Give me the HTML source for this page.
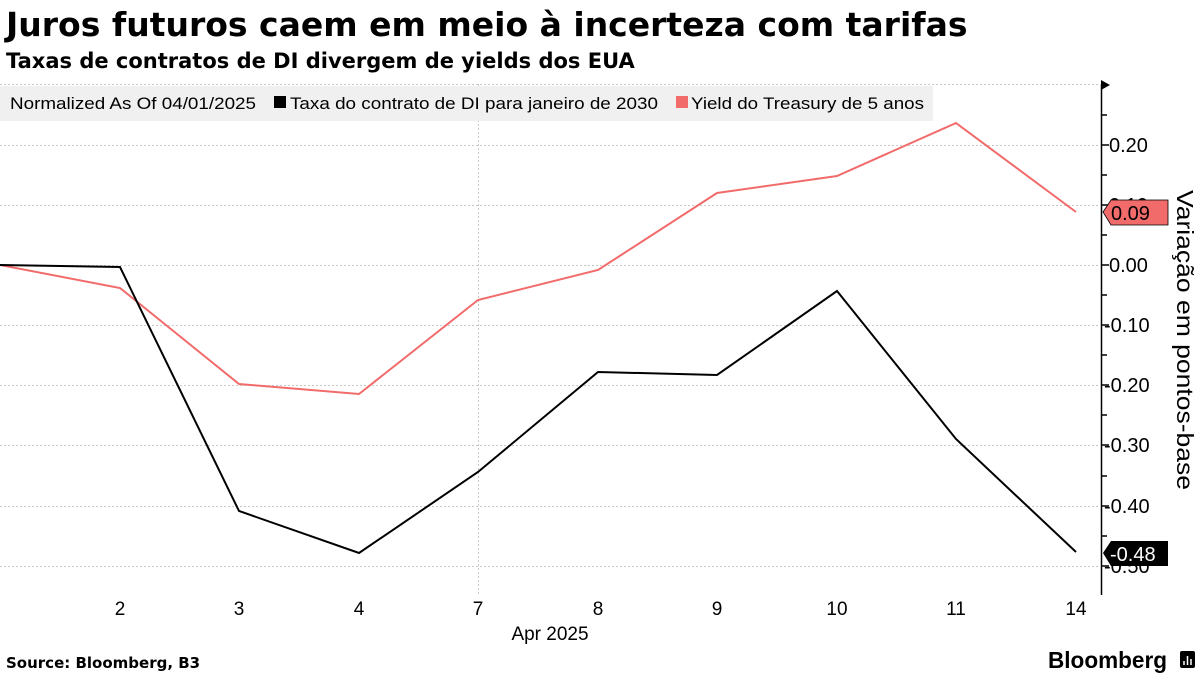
<!DOCTYPE html>
<html><head><meta charset="utf-8"><style>
body{margin:0;background:#fff;width:1200px;height:675px;overflow:hidden;font-family:"Liberation Sans",sans-serif}
</style></head><body>
<svg width="1200" height="675" xmlns="http://www.w3.org/2000/svg" font-family="Liberation Sans, sans-serif">
<text x="6" y="36" font-family="DejaVu Sans, sans-serif" font-weight="bold" font-size="33" fill="#000">Juros futuros caem em meio à incerteza com tarifas</text>
<text x="6" y="68" font-family="DejaVu Sans, sans-serif" font-weight="bold" font-size="21" fill="#000">Taxas de contratos de DI divergem de yields dos EUA</text>
<g stroke="#c8c8c8" stroke-dasharray="2,2" stroke-width="1">
<line x1="0" y1="84.5" x2="1100" y2="84.5"/>
<line x1="0" y1="145.5" x2="1100" y2="145.5"/>
<line x1="0" y1="205.5" x2="1100" y2="205.5"/>
<line x1="0" y1="265.5" x2="1100" y2="265.5"/>
<line x1="0" y1="325.5" x2="1100" y2="325.5"/>
<line x1="0" y1="385.5" x2="1100" y2="385.5"/>
<line x1="0" y1="445.5" x2="1100" y2="445.5"/>
<line x1="0" y1="506.5" x2="1100" y2="506.5"/>
<line x1="0" y1="566.5" x2="1100" y2="566.5"/>
<line x1="478.5" y1="84" x2="478.5" y2="595"/>
</g>
<rect x="0" y="86" width="933" height="35" fill="#f0f0f0"/>
<text x="10" y="109" font-size="17" fill="#000" textLength="246" lengthAdjust="spacingAndGlyphs">Normalized As Of 04/01/2025</text>
<rect x="274" y="96" width="12" height="12" fill="#000"/>
<text x="290" y="109" font-size="17" fill="#000" textLength="368" lengthAdjust="spacingAndGlyphs">Taxa do contrato de DI para janeiro de 2030</text>
<rect x="676" y="96" width="12" height="12" fill="#f26b6b"/>
<text x="691" y="109" font-size="17" fill="#000" textLength="233" lengthAdjust="spacingAndGlyphs">Yield do Treasury de 5 anos</text>
<polyline fill="none" stroke="#f26b6b" stroke-width="2" points="0,265 120,288 239,384 359,394 478,300 598,270 717,193 837,176 956,123 1076,212"/>
<polyline fill="none" stroke="#000" stroke-width="2" points="0,265 120,267 239,511 359,553 478,472 598,372 717,375 837,291 956,439 1076,552"/>
<line x1="1101.5" y1="84" x2="1101.5" y2="595" stroke="#000" stroke-width="1.5"/>
<polygon points="1101,80 1110,85 1101,90" fill="#000"/>
<g stroke="#000" stroke-width="1.5">
<line x1="1101" y1="115" x2="1107" y2="115"/><line x1="1101" y1="145" x2="1109" y2="145"/>
<line x1="1101" y1="175" x2="1107" y2="175"/><line x1="1101" y1="205" x2="1109" y2="205"/>
<line x1="1101" y1="235" x2="1107" y2="235"/><line x1="1101" y1="265" x2="1109" y2="265"/>
<line x1="1101" y1="295" x2="1107" y2="295"/><line x1="1101" y1="325" x2="1109" y2="325"/>
<line x1="1101" y1="355" x2="1107" y2="355"/><line x1="1101" y1="385" x2="1109" y2="385"/>
<line x1="1101" y1="415" x2="1107" y2="415"/><line x1="1101" y1="445" x2="1109" y2="445"/>
<line x1="1101" y1="476" x2="1107" y2="476"/><line x1="1101" y1="506" x2="1109" y2="506"/>
<line x1="1101" y1="536" x2="1107" y2="536"/><line x1="1101" y1="566" x2="1109" y2="566"/>
</g>
<g font-size="20" fill="#000">
<text x="1109" y="152">0.20</text>
<text x="1109" y="212">0.10</text>
<text x="1109" y="272">0.00</text>
<text x="1104" y="332">-0.10</text>
<text x="1104" y="392">-0.20</text>
<text x="1104" y="452">-0.30</text>
<text x="1104" y="513">-0.40</text>
<text x="1104" y="573">-0.50</text>
</g>
<polygon points="1103,212 1111,200 1168,200 1168,225 1111,225" fill="#f26b6b" stroke="#000" stroke-width="0.8"/>
<text x="1111" y="220" font-size="20" fill="#000">0.09</text>
<polygon points="1103,553 1111,541 1168,541 1168,566 1111,566" fill="#000"/>
<text x="1110" y="561" font-size="20" fill="#fff">-0.48</text>
<text transform="translate(1177,190) rotate(90)" font-size="23" fill="#000" textLength="300" lengthAdjust="spacingAndGlyphs">Variação em pontos-base</text>
<g font-size="19" fill="#000" text-anchor="middle">
<text x="120" y="615">2</text><text x="239" y="615">3</text><text x="359" y="615">4</text>
<text x="478" y="615">7</text><text x="598" y="615">8</text><text x="717" y="615">9</text>
<text x="837" y="615">10</text><text x="956" y="615">11</text><text x="1076" y="615">14</text>
<text x="550" y="640">Apr 2025</text>
</g>
<text x="6" y="668" font-family="DejaVu Sans, sans-serif" font-weight="bold" font-size="15" fill="#000">Source: Bloomberg, B3</text>
<text x="1048" y="668" font-weight="bold" font-size="23" fill="#000" textLength="119" lengthAdjust="spacingAndGlyphs">Bloomberg</text>
<rect x="1180" y="651" width="15" height="17" rx="2" fill="#000"/>
<g stroke="#fff" stroke-width="1.5"><line x1="1184" y1="665" x2="1184" y2="661"/><line x1="1187.5" y1="665" x2="1187.5" y2="656"/><line x1="1191" y1="665" x2="1191" y2="659"/></g>
</svg>
</body></html>
